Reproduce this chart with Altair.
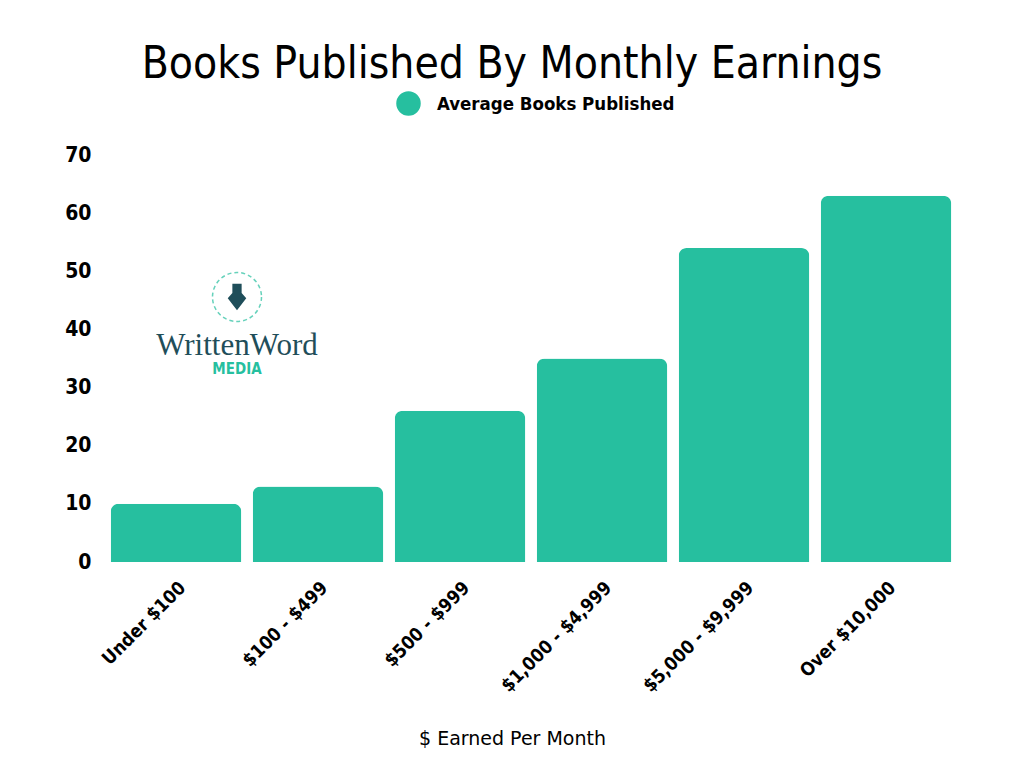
import altair as alt
import pandas as pd

categories = ["Under $100", "$100 - $499", "$500 - $999", "$1,000 - $4,999", "$5,000 - $9,999", "Over $10,000"]
values = [10, 13, 26, 35, 54, 63]
series_name = "Average Books Published"
y_ticks = [0, 10, 20, 30, 40, 50, 60, 70]

TEAL = "#26BF9F"
NARROW = "DejaVu Sans Condensed, Liberation Sans Narrow, sans-serif"

df = pd.DataFrame({"category": categories, "value": values, "series": [series_name] * len(categories)})

bars = alt.Chart(df).mark_bar(cornerRadiusTopLeft=8, cornerRadiusTopRight=8).encode(
    x=alt.X("category:N", sort=categories,
            scale=alt.Scale(paddingInner=0.08, paddingOuter=0.04),
            axis=alt.Axis(title="$ Earned Per Month", labelAngle=-45, labelFont=NARROW,
                          labelFontWeight="bold", labelFontSize=18.5, labelColor="#000",
                          labelPadding=16, titleFont="DejaVu Sans", titleFontWeight="normal",
                          titleFontSize=19, titleColor="#000", titleX=407, titleY=176,
                          titleBaseline="middle", titleAlign="center",
                          domain=False, ticks=False)),
    y=alt.Y("value:Q", scale=alt.Scale(domain=[0, 70], nice=False),
            axis=alt.Axis(title=None, values=y_ticks, labelFont=NARROW, labelFontWeight="bold",
                          labelFontSize=21, labelColor="#000", labelPadding=14,
                          domain=False, ticks=False, grid=False)),
    color=alt.Color("series:N", scale=alt.Scale(range=[TEAL]),
                    legend=alt.Legend(title=None, orient="none", legendX=291, legendY=-64,
                                      symbolType="circle", symbolSize=600, symbolStrokeWidth=0,
                                      labelFont=NARROW, labelFontWeight="bold", labelFontSize=18.5,
                                      labelColor="#000", labelOffset=16, labelLimit=400)),
)

logo_df = pd.DataFrame({"t": ["WrittenWord"]})
logo_word = alt.Chart(logo_df).mark_text(font="Liberation Serif, DejaVu Serif, serif", fontSize=31,
                                         color="#1F4E5A", align="center", baseline="alphabetic").encode(
    x=alt.value(132), y=alt.value(200), text="t:N")
media_df = pd.DataFrame({"t": ["MEDIA"]})
logo_media = alt.Chart(media_df).mark_text(font=NARROW, fontWeight="bold", fontSize=15,
                                           color=TEAL, align="center", baseline="middle").encode(
    x=alt.value(132), y=alt.value(214), text="t:N")
ring = alt.Chart(pd.DataFrame({"k": [0]})).mark_point(shape="circle", filled=False, size=2400,
                                                        color=TEAL, strokeWidth=1.5,
                                                        strokeDash=[4, 3]).encode(
    x=alt.value(132), y=alt.value(142))
nib = alt.Chart(pd.DataFrame({"k": [0]})).mark_point(
    shape="M-0.35,-1 L0.35,-1 L0.35,-0.3 L0.7,0.1 L0,1 L-0.7,0.1 L-0.35,-0.3 Z",
    filled=True, size=700, color="#1F4E5A", opacity=1).encode(
    x=alt.value(132), y=alt.value(142))

chart = alt.layer(bars, ring, nib, logo_word, logo_media).properties(
    width=852, height=407,
    title=alt.TitleParams("Books Published By Monthly Earnings", font=NARROW, fontSize=44,
                          fontWeight="normal", color="#000", anchor="middle", dx=-19, offset=4),
    autosize=alt.AutoSizeParams(type="none"),
    padding={"left": 97, "top": 147, "right": 50, "bottom": 200},
).configure_view(stroke=None)

chart.save("out.html", embed_options={"renderer": "svg", "actions": False})
